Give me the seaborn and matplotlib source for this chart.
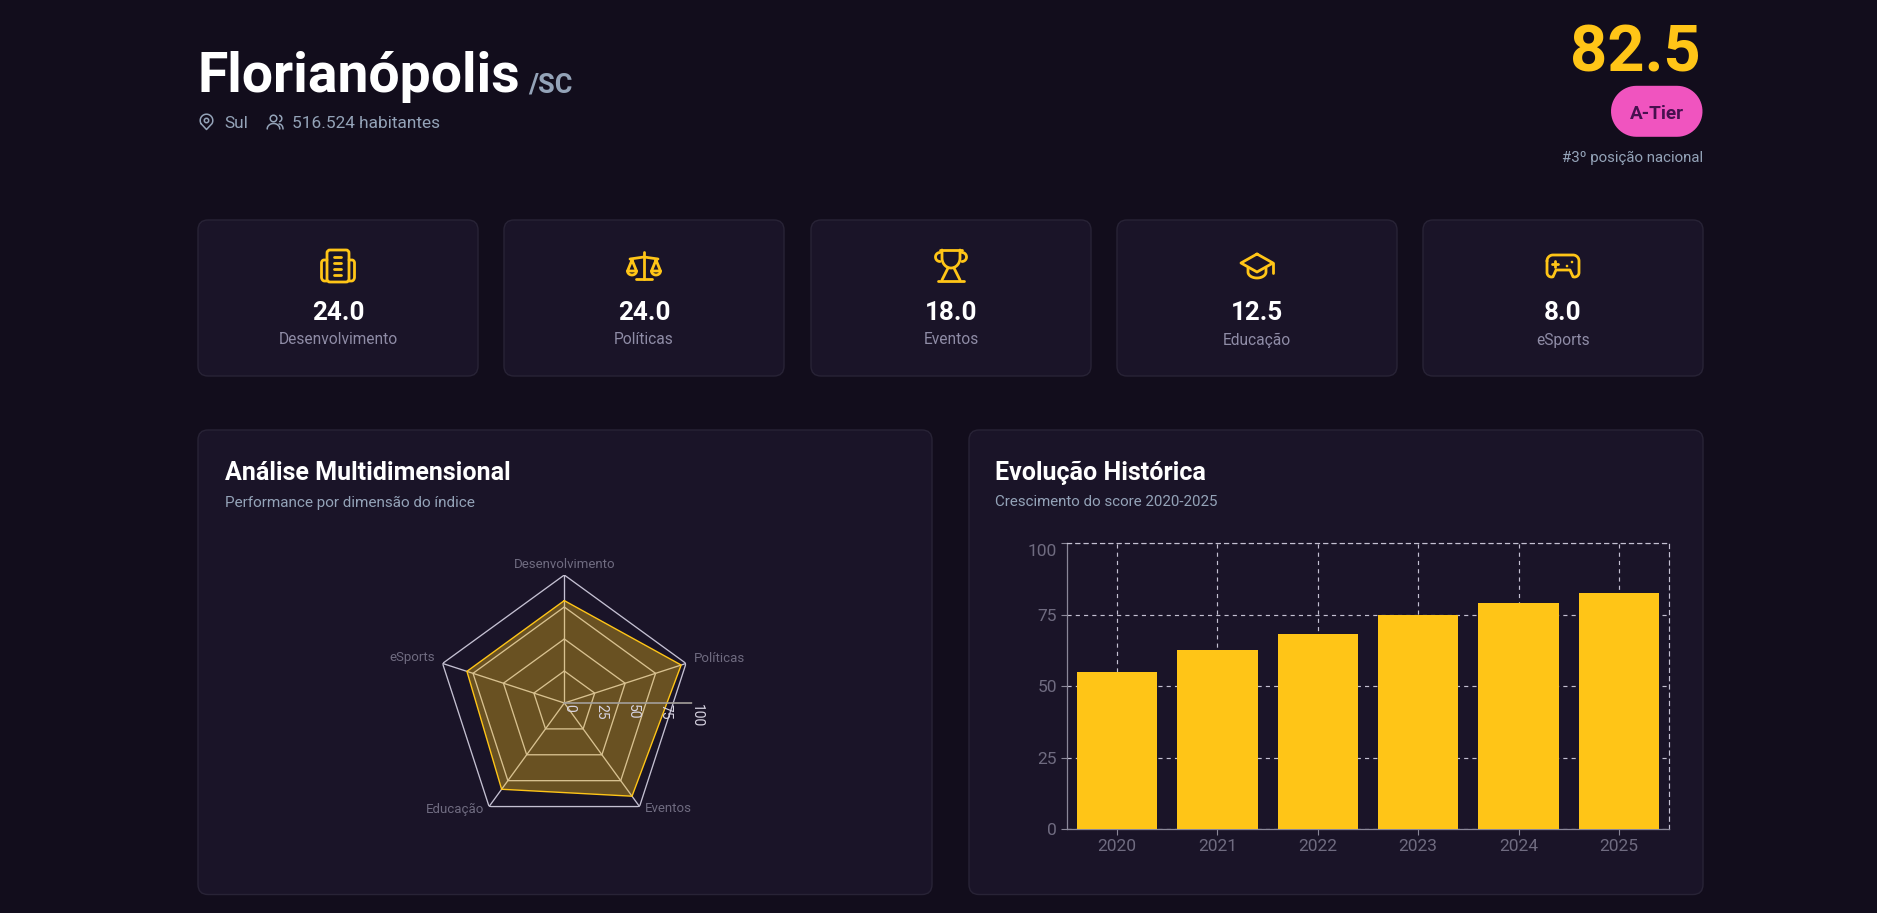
import numpy as np
import pandas as pd
import seaborn as sns
import matplotlib.pyplot as plt
from matplotlib.patches import FancyBboxPatch, Circle
from matplotlib.transforms import ScaledTranslation

W, H = 1877, 913
BG = "#120d1c"
CARD = "#1a1428"
EDGE = "#282336"
GOLD = "#ffc517"
MUTED = "#94a3b8"
SOFT = "#8f8ca6"
AXIS_TXT = "#6f6b80"
GRID = "#c4c0d2"

dimensions = ["Desenvolvimento", "Políticas", "Eventos", "Educação", "eSports"]
stat_values = ["24.0", "24.0", "18.0", "12.5", "8.0"]
radar_values = [80, 96, 90, 83.3, 80]
radar_ticks = [0, 25, 50, 75, 100]
years = ["2020", "2021", "2022", "2023", "2024", "2025"]
scores = [55, 62.7, 68.3, 75, 79, 82.5]
bar_ticks = [0, 25, 50, 75, 100]

sns.set_theme(style="dark")
plt.rcParams["font.family"] = ["Roboto", "Noto Sans", "DejaVu Sans"]

fig = plt.figure(figsize=(W / 100, H / 100), dpi=100, facecolor=BG)


def frac_box(left, top, right, bottom):
    return [left / W, 1 - bottom / H, (right - left) / W, (bottom - top) / H]


# page layer in pixel coordinates, for cards, text and icons
page = fig.add_axes([0, 0, 1, 1], facecolor=BG)
page.set_xlim(0, W)
page.set_ylim(H, 0)
page.axis("off")


def card(x0, y0, x1, y1):
    page.add_patch(FancyBboxPatch((x0 + 10, y0 + 10), x1 - x0 - 20, y1 - y0 - 20,
                                  boxstyle="round,pad=10,rounding_size=10",
                                  fc=CARD, ec=EDGE, lw=1))


def label(x, y, s, px, color="white", ha="left", va="baseline", weight="normal"):
    page.text(x, y, s, fontsize=px * 0.72, color=color, ha=ha, va=va, fontweight=weight)


def stroke(pts, lw=2.0, color=GOLD, closed=False):
    pts = list(pts)
    if closed:
        pts.append(pts[0])
    xs, ys = zip(*pts)
    page.plot(xs, ys, color=color, lw=lw, solid_capstyle="round", solid_joinstyle="round")


def arc_pts(cx, cy, rx, ry, a0, a1):
    t = np.radians(np.linspace(a0, a1, 30))
    return list(zip(cx + rx * np.cos(t), cy + ry * np.sin(t)))


def icon_building(cx):
    page.add_patch(FancyBboxPatch((cx - 9, 252), 18, 28, boxstyle="round,pad=2,rounding_size=3",
                                  fc="none", ec=GOLD, lw=2.0))
    stroke([(cx - 11, 260), (cx - 14, 260)] + arc_pts(cx - 14, 263, 2.5, 3, 270, 180)
           + [(cx - 16.5, 277)] + arc_pts(cx - 13.5, 277, 3, 4, 180, 90) + [(cx - 11, 281)])
    stroke([(cx + 11, 260), (cx + 14, 260)] + arc_pts(cx + 14, 263, 2.5, 3, 270, 360)
           + [(cx + 16.5, 277)] + arc_pts(cx + 13.5, 277, 3, 4, 0, 90) + [(cx + 11, 281)])
    for y in (257, 263, 269, 275):
        stroke([(cx - 3.5, y), (cx + 3.5, y)])


def icon_scales(cx):
    stroke([(cx, 252), (cx, 279)])
    stroke([(cx - 8, 279), (cx + 8, 279)])
    stroke([(cx - 14, 259), (cx, 257), (cx + 14, 259)])
    for side in (-1, 1):
        px = cx + side * 12
        stroke([(px, 260), (px - 4.5, 271), (px + 4.5, 271)], closed=True)
        stroke(arc_pts(px, 271, 4.5, 4, 0, 180))


def icon_trophy(cx):
    stroke([(cx - 11, 250), (cx + 11, 250)])
    stroke([(cx - 9, 250), (cx - 9, 258)] + arc_pts(cx, 258, 9, 10, 180, 90)
           + arc_pts(cx, 258, 9, 10, 90, 0) + [(cx + 9, 250)])
    stroke(arc_pts(cx - 11, 257, 4.5, 4.5, 270, 90))
    stroke(arc_pts(cx + 11, 257, 4.5, 4.5, -90, 90))
    stroke([(cx - 3, 268), (cx - 9, 280)])
    stroke([(cx + 3, 268), (cx + 9, 280)])
    stroke([(cx - 13, 281), (cx + 13, 281)])


def icon_cap(cx):
    stroke([(cx, 254), (cx + 16, 263), (cx, 272), (cx - 16, 263)], closed=True)
    stroke([(cx - 9, 268), (cx - 9, 272)] + arc_pts(cx, 272, 9, 6, 180, 0) + [(cx + 9, 268)])
    stroke([(cx + 16, 263), (cx + 16, 273)])


def icon_pad(cx):
    top = arc_pts(cx - 10, 261, 6, 6, 180, 270) + arc_pts(cx + 10, 261, 6, 6, 270, 360)
    right = arc_pts(cx + 11.5, 272.5, 4.5, 4.5, 0, 110)
    mid = [(cx + 7, 270), (cx - 7, 270)]
    left = arc_pts(cx - 11.5, 272.5, 4.5, 4.5, 70, 180)
    stroke(top + right + mid + left, closed=True)
    stroke([(cx - 11, 264), (cx - 5, 264)])
    stroke([(cx - 8, 261), (cx - 8, 267)])
    page.add_patch(Circle((cx + 4, 266), 1.3, fc=GOLD, ec="none"))
    page.add_patch(Circle((cx + 9, 262), 1.3, fc=GOLD, ec="none"))


# header
label(198, 92, "Florianópolis", 55.3, weight="bold")
label(528, 93, "/SC", 27, color=MUTED, weight="bold")
label(224, 128, "Sul", 17.2, color=MUTED)
label(292.5, 128, "516.524 habitantes", 17.2, color=MUTED)
stroke(arc_pts(206.5, 120.5, 6.3, 6.3, 150, 390) + [(206.5, 129.5)], lw=1.1, color=MUTED, closed=True)
page.add_patch(Circle((206.5, 120.5), 2.2, fc="none", ec=MUTED, lw=1.1))
page.add_patch(Circle((273.5, 118.5), 3.3, fc="none", ec=MUTED, lw=1.1))
stroke(arc_pts(273.5, 129, 6.3, 5.5, 180, 360), lw=1.1, color=MUTED)
stroke(arc_pts(278.5, 118.5, 3.3, 3.3, -70, 70), lw=1.1, color=MUTED)
stroke(arc_pts(279, 129, 4, 5, 270, 360), lw=1.1, color=MUTED)

label(1701, 72, "82.5", 65, color=GOLD, ha="right", weight="bold")
pill = arc_pts(1677, 111.3, 25.5, 25.5, -90, 90) + arc_pts(1636.5, 111.3, 25.5, 25.5, 90, 270)
page.fill(*zip(*pill), color="#f054bf", lw=0)
label(1657, 119, "A-Tier", 19, color="#47104f", ha="center", weight="bold")
label(1703, 162, "#3º posição nacional", 15, color=MUTED, ha="right")

# stat cards
card_left = [198, 504, 811, 1117, 1423]
card_width = 280
icons = [icon_building, icon_scales, icon_trophy, icon_cap, icon_pad]
for x0, name, val, icon in zip(card_left, dimensions, stat_values, icons):
    card(x0, 220, x0 + card_width, 376)
    cx = x0 + card_width / 2
    icon(cx)
    label(cx, 320, val, 26, ha="center", weight="bold")
    label(cx, 344.5, name, 15.5, color=SOFT, ha="center")

# chart cards
card(198, 430, 932, 894.5)
card(969, 430, 1703, 894.5)
label(225, 480, "Análise Multidimensional", 25, weight="bold")
label(225, 506.5, "Performance por dimensão do índice", 15.2, color=MUTED)
label(995, 480, "Evolução Histórica", 25, weight="bold")
label(995, 506.5, "Crescimento do score 2020-2025", 15.1, color=MUTED)

# radar
radar = fig.add_axes(frac_box(436.3, 575, 692.3, 831), projection="polar", facecolor="none")
radar.set_theta_zero_location("N")
radar.set_theta_direction(-1)
radar.set_ylim(0, 100)
theta = np.linspace(0, 2 * np.pi, len(dimensions), endpoint=False)
closed_theta = np.append(theta, theta[0])
for r in radar_ticks[1:]:
    radar.plot(closed_theta, [r] * len(closed_theta), color=GRID, lw=0.95, zorder=1)
for t in theta:
    radar.plot([t, t], [0, 100], color=GRID, lw=0.95, zorder=1)
closed_vals = radar_values + radar_values[:1]
radar.fill(closed_theta, closed_vals, color=GOLD, alpha=0.35, lw=0, zorder=2)
radar.plot(closed_theta, closed_vals, color=GOLD, lw=1.0, zorder=3)
radar.plot([np.pi / 2, np.pi / 2], [0, 100], color="#a39f9b", lw=1.2, zorder=4)
for r in radar_ticks:
    radar.annotate(str(r), (np.pi / 2, r), xytext=(3.4, -0.5), textcoords="offset points",
                   rotation=-90, ha="center", va="top", fontsize=10, color="#d8d4e2", zorder=5,
                   annotation_clip=False)
radar.axis("off")

label(565, 564, dimensions[0], 13.2, color=AXIS_TXT, ha="center", va="center")
label(694, 658, dimensions[1], 13.2, color=AXIS_TXT, va="center")
label(645, 809, dimensions[2], 13.2, color=AXIS_TXT, va="center")
label(484, 809, dimensions[3], 13.2, color=AXIS_TXT, ha="right", va="center")
label(435, 658, dimensions[4], 13.2, color=AXIS_TXT, ha="right", va="center")

# bars
bars = fig.add_axes(frac_box(1066.7, 543.3, 1669.3, 829.3), facecolor="none")
hist = pd.DataFrame({"year": years, "score": scores})
sns.barplot(data=hist, x="year", y="score", color=GOLD, saturation=1, width=0.8, ax=bars, zorder=3,
            edgecolor="none", linewidth=0)
bars.set_xlim(-0.5, len(years) - 0.5)
bars.set_ylim(0, 100)
bars.set_yticks(bar_ticks)
bars.set_xlabel("")
bars.set_ylabel("")
bars.set_axisbelow(True)
bars.grid(True, axis="both", color=GRID, lw=0.85, linestyle=(0, (3.5, 3.5)))
bars.tick_params(axis="both", colors="#8a8798", labelcolor=AXIS_TXT, labelsize=12.5, length=4.5,
                 width=0.8, bottom=True, left=True, pad=2.5)
for side in ("left", "bottom"):
    bars.spines[side].set_color("#8a8798")
    bars.spines[side].set_linewidth(0.9)
for side in ("top", "right"):
    bars.spines[side].set_visible(True)
    bars.spines[side].set_color(GRID)
    bars.spines[side].set_linewidth(0.85)
    bars.spines[side].set_linestyle((0, (3.5, 3.5)))
# top label sits a little under its tick, as in the original
top_tick = bars.get_yticklabels()[-1]
top_tick.set_transform(top_tick.get_transform() + ScaledTranslation(0, -7 / 100, fig.dpi_scale_trans))

fig.savefig("out.png", dpi=100, facecolor=BG)
